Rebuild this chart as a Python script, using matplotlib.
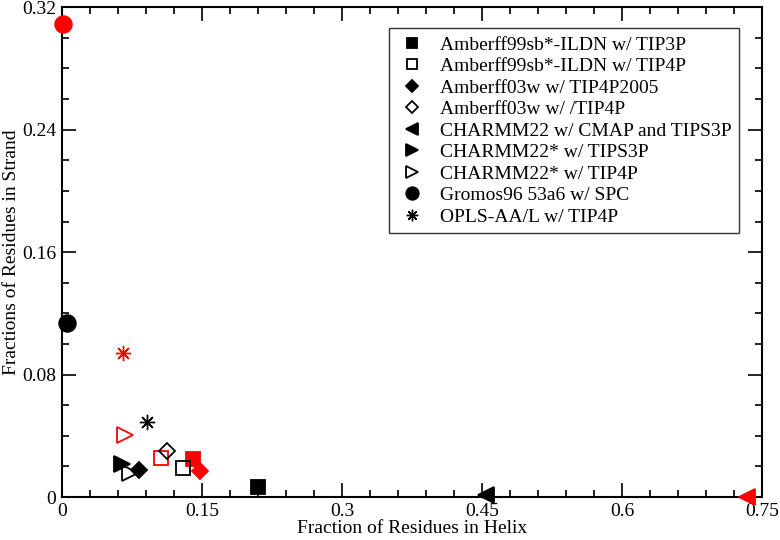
import matplotlib
matplotlib.use("Agg")
import matplotlib.pyplot as plt
from matplotlib.ticker import MultipleLocator, FixedLocator, FuncFormatter

plt.rcParams['font.family'] = ['Liberation Serif', 'DejaVu Serif']

labels = [
    "Amberff99sb*-ILDN w/ TIP3P",
    "Amberff99sb*-ILDN w/ TIP4P",
    "Amberff03w w/ TIP4P2005",
    "Amberff03w w/ /TIP4P",
    "CHARMM22 w/ CMAP and TIPS3P",
    "CHARMM22* w/ TIPS3P",
    "CHARMM22* w/ TIP4P",
    "Gromos96 53a6 w/ SPC",
    "OPLS-AA/L w/ TIP4P",
]
markers = ['s', 's', 'D', 'D', '<', '>', '>', 'o', (8, 2, 0)]
filled = [True, False, True, False, True, True, False, True, True]
sizes = [9.5, 9.5, 8, 8, 11, 11, 11, 12, 11]

# black set (helix, strand)
black_helix = [0.210, 0.130, 0.083, 0.113, 0.454, 0.064, 0.073, 0.005, 0.091]
black_strand = [0.0063, 0.0187, 0.0176, 0.0302, 0.0013, 0.0213, 0.016, 0.1135, 0.0492]
# red set (None = no point)
red_helix = [0.1407, 0.106, 0.148, None, 0.734, None, 0.068, 0.0014, 0.0657]
red_strand = [0.0246, 0.0253, 0.0172, None, 0.0002, None, 0.0405, 0.309, 0.0943]

fig = plt.figure(figsize=(7.8, 5.4), dpi=100)
ax = fig.add_axes([0.0795, 0.0796, 0.8975, 0.907])

for i in range(len(labels)):
    for hx, st, col, lab in [(black_helix[i], black_strand[i], 'black', labels[i]),
                             (red_helix[i], red_strand[i], 'red', None)]:
        if hx is None:
            continue
        face = col if filled[i] else 'none'
        mew = 1.0 if i == 8 else 1.3
        ax.plot([hx], [st], linestyle='none', marker=markers[i], markersize=sizes[i],
                markerfacecolor=face, markeredgecolor=col, markeredgewidth=mew,
                label=lab, clip_on=False, zorder=3)

ax.set_xlim(0, 0.75)
ax.set_ylim(0, 0.32)
ax.xaxis.set_major_locator(FixedLocator([0, 0.15, 0.3, 0.45, 0.6, 0.75]))
ax.xaxis.set_minor_locator(MultipleLocator(0.03))
ax.yaxis.set_major_locator(FixedLocator([0, 0.08, 0.16, 0.24, 0.32]))
ax.yaxis.set_minor_locator(MultipleLocator(0.02))
fmt = FuncFormatter(lambda v, p: "%g" % round(v, 4))
ax.xaxis.set_major_formatter(fmt)
ax.yaxis.set_major_formatter(fmt)

ax.tick_params(which='both', direction='in', top=True, right=True, labelsize=14, width=1.2)
ax.tick_params(which='major', length=10, pad=4)
ax.tick_params(which='minor', length=5)
for sp in ax.spines.values():
    sp.set_linewidth(1.5)

ax.set_xlabel("Fraction of Residues in Helix", fontsize=14, labelpad=0)
ax.set_ylabel("Fractions of Residues in Strand", fontsize=14, labelpad=2)

leg = ax.legend(loc='upper right', bbox_to_anchor=(0.967, 0.957), borderaxespad=0,
                fontsize=14, frameon=True, fancybox=False, edgecolor='black',
                markerscale=0.75, handletextpad=0.6, labelspacing=0.2,
                borderpad=0.4, handlelength=1.6)
leg.get_frame().set_linewidth(1.0)

fig.savefig("out.png", dpi=100)
